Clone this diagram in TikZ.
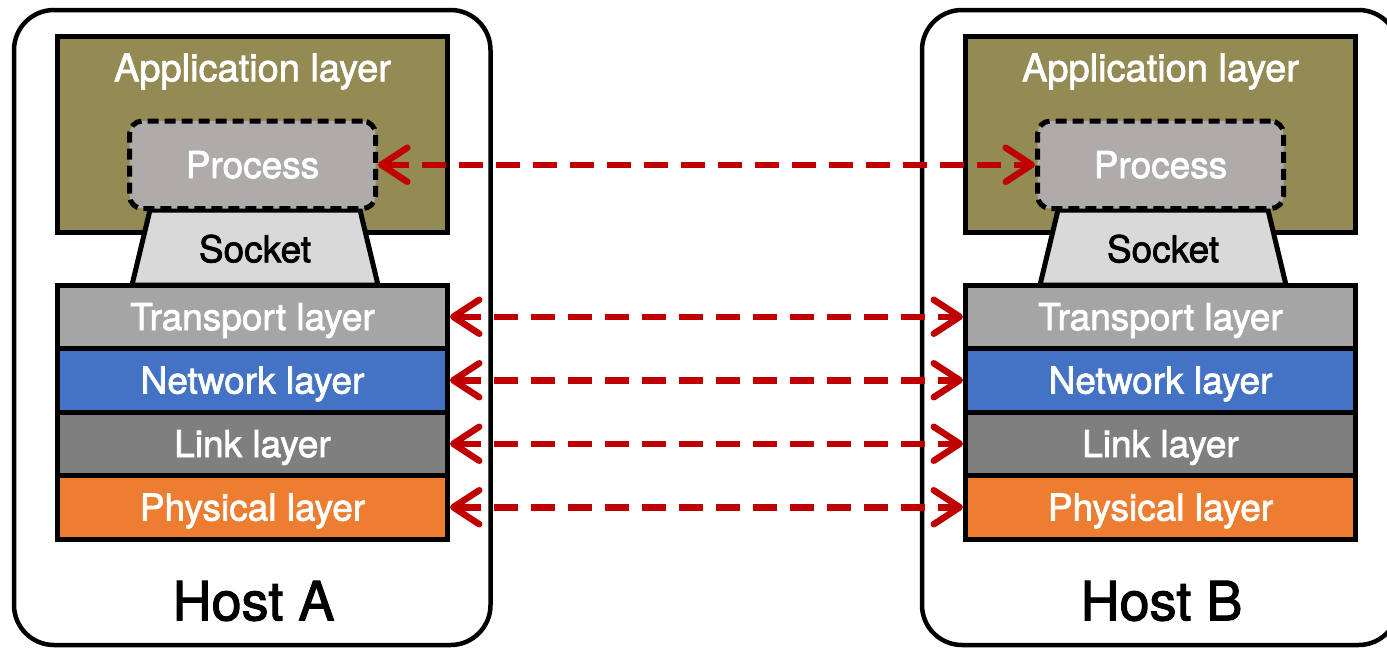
\documentclass[tikz,border=0pt]{standalone}
\usepackage{fontspec}
\setmainfont{TeX Gyre Heros}[FakeBold=2]
\usetikzlibrary{arrows.meta}
\definecolor{appcol}{HTML}{948A54}
\definecolor{proccol}{HTML}{AEABAA}
\definecolor{sockcol}{HTML}{D9D9D9}
\definecolor{transcol}{HTML}{A5A5A5}
\definecolor{netcol}{HTML}{4472C4}
\definecolor{linkcol}{HTML}{7F7F7F}
\definecolor{physcol}{HTML}{ED7D31}
\definecolor{arrred}{HTML}{C00000}
\begin{document}
\begin{tikzpicture}[x=1pt,y=-1pt,
  host/.style={draw, line width=4.5pt, rounded corners=40pt, minimum width=476.5pt, minimum height=635pt, fill=white},
  applayer/.style={draw, line width=5pt, fill=appcol, minimum width=390pt, minimum height=196pt},
  procbox/.style={draw, line width=5pt, fill=proccol, dash pattern=on 11pt off 6pt, rounded corners=13pt, minimum width=246pt, minimum height=87.5pt, text=white, font=\fontsize{37}{40}\selectfont, text height=26.5pt, text depth=0pt},
  layer/.style={draw, line width=5pt, minimum width=390pt, minimum height=63.5pt, text=white, font=\fontsize{37}{40}\selectfont, text height=26.5pt, text depth=0pt},
  sockshape/.style={draw, line width=5pt, fill=sockcol, line join=miter},
  lbl/.style={font=\fontsize{37}{40}\selectfont, text height=26.5pt, text depth=0pt, inner sep=0pt},
  hostlbl/.style={font=\fontsize{54}{58}\selectfont, text height=38.5pt, text depth=0pt, inner sep=0pt},
  link/.style={draw=arrred, line width=6.5pt, dash pattern=on 24pt off 13pt,
    {Straight Barb[length=26pt,width=34pt,line cap=round,line join=round]}-{Straight Barb[length=26pt,width=34pt,line cap=round,line join=round]}}
]
\useasboundingbox (0,0) rectangle (1387,649);
% Host A
\node[host] (hostA) at (252.25,327.5) {};
\node[applayer] (appA) at (252.5,134) {};
\node[lbl, text=white, font=\fontsize{38}{40}\selectfont] (appAlbl) at (252.5,68) {Application layer};
\draw[sockshape] (150,210) -- (360,210) -- (378,285) -- (132,285) -- cycle;
\node[lbl] (sockA) at (255,249) {Socket};
\node[procbox] (procA) at (252.5,164.75) {Process};
\node[layer, fill=transcol] (transA) at (252.5,316.75) {Transport layer};
\node[layer, fill=netcol] (netA) at (252.5,380.25) {Network layer};
\node[layer, fill=linkcol] (linkA) at (252.5,443.75) {Link layer};
\node[layer, fill=physcol] (physA) at (252.5,507.25) {Physical layer};
\node[hostlbl] (hostAlbl) at (253.5,601) {Host A};
% Host B
\node[host] (hostB) at (1160.25,327.5) {};
\node[applayer] (appB) at (1160.5,134) {};
\node[lbl, text=white, font=\fontsize{38}{40}\selectfont] (appBlbl) at (1160.5,68) {Application layer};
\draw[sockshape] (1058,210) -- (1268,210) -- (1286,285) -- (1040,285) -- cycle;
\node[lbl] (sockB) at (1163,249) {Socket};
\node[procbox] (procB) at (1160.5,164.75) {Process};
\node[layer, fill=transcol] (transB) at (1160.5,316.75) {Transport layer};
\node[layer, fill=netcol] (netB) at (1160.5,380.25) {Network layer};
\node[layer, fill=linkcol] (linkB) at (1160.5,443.75) {Link layer};
\node[layer, fill=physcol] (physB) at (1160.5,507.25) {Physical layer};
\node[hostlbl] (hostBlbl) at (1161.5,601) {Host B};
% connectors
\draw[link] (procA.east) -- (procB.west);
\draw[link] (transA.east) -- (transB.west);
\draw[link] (netA.east) -- (netB.west);
\draw[link] (linkA.east) -- (linkB.west);
\draw[link] (physA.east) -- (physB.west);
\end{tikzpicture}
\end{document}
